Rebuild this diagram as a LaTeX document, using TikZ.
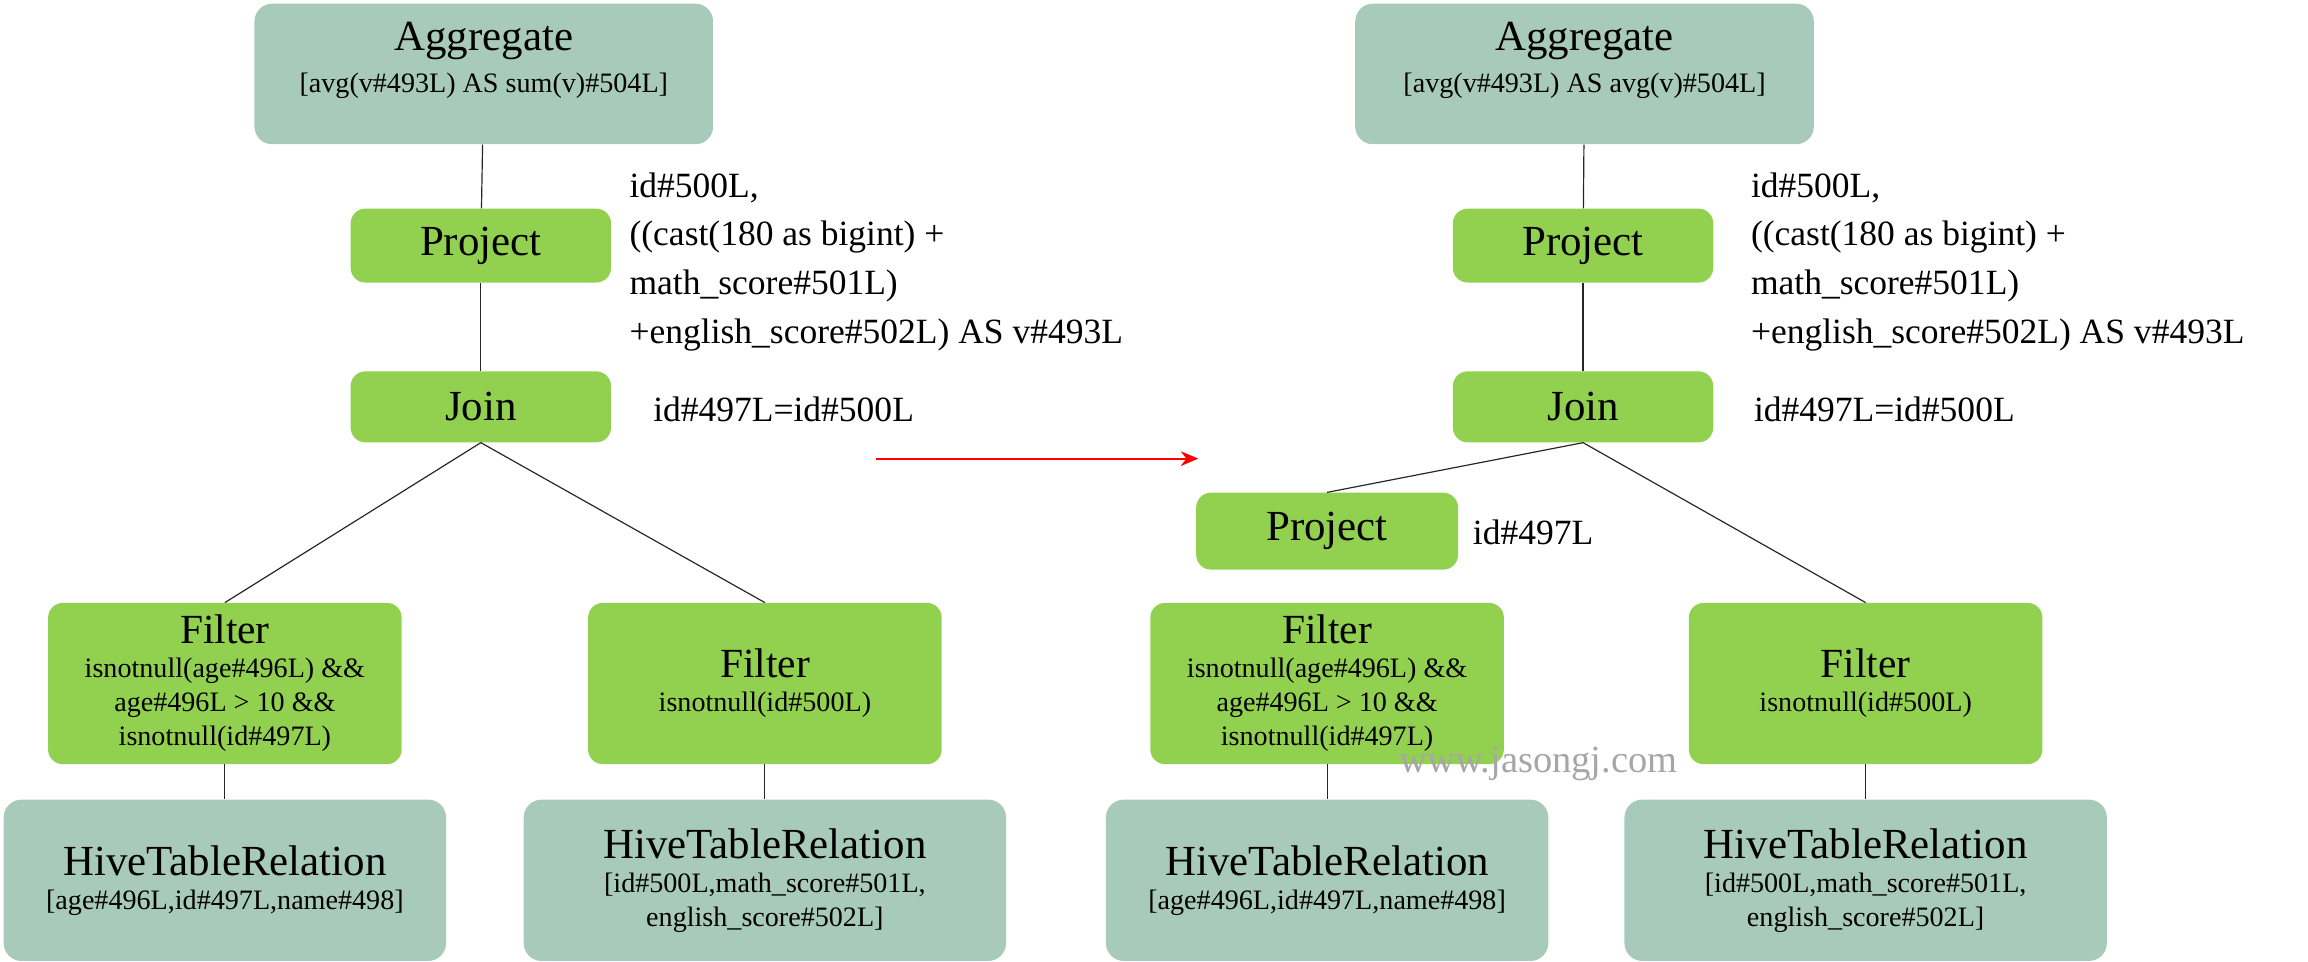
\documentclass[tikz,border=0pt]{standalone}
\usepackage{fontspec}
\setmainfont{Liberation Serif}
\usetikzlibrary{arrows.meta, positioning}

\definecolor{relgray}{HTML}{A8CABA}
\definecolor{opgreen}{HTML}{92D050}

\begin{document}
\begin{tikzpicture}[
    x=1pt, y=-1pt,
    rel/.style={rectangle, rounded corners=12pt, fill=relgray, align=center, inner sep=2pt},
    op/.style={rectangle, rounded corners=10pt, fill=opgreen, align=center, inner sep=2pt},
    big/.style={font=\fontsize{29}{32}\selectfont},
    sub/.style={font=\fontsize{19}{23}\selectfont},
    note/.style={font=\fontsize{24}{33}\selectfont, align=left, anchor=west},
    link/.style={thick, black!85},
    arrow/.style={-{Stealth[length=12pt, width=10pt]}, red, very thick}
]
\useasboundingbox (0,0) rectangle (1560,650);

% Left tree
\node[rel, minimum width=310, minimum height=95] (aggL) at (327,50) {};
\node[big] at (327,28) {Aggregate};
\node[sub] at (327,58) {[avg(v\#493L) AS sum(v)\#504L]};
\node[op, big, minimum width=176, minimum height=50] (projL) at (325,166) {Project};
\node[op, big, minimum width=176, minimum height=48] (joinL) at (325,275) {Join};
\node[op, sub, minimum width=239, minimum height=109] (filLa) at (152,462)
  {{\fontsize{28}{30}\selectfont Filter}\\isnotnull(age\#496L) \&\&\\age\#496L > 10 \&\&\\isnotnull(id\#497L)};
\node[op, sub, minimum width=239, minimum height=109] (filLb) at (517,462)
  {{\fontsize{28}{36}\selectfont Filter}\\isnotnull(id\#500L)};
\node[rel, sub, minimum width=299, minimum height=109] (hivLa) at (152,595)
  {{\fontsize{29}{36}\selectfont HiveTableRelation}\\{[age\#496L,id\#497L,name\#498]}};
\node[rel, sub, minimum width=326, minimum height=109] (hivLb) at (517,595)
  {{\fontsize{29}{32}\selectfont HiveTableRelation}\\{[id\#500L,math\_score\#501L,}\\english\_score\#502L]};
\node[note] (projLtxt) at (422,177) {id\#500L,\\((cast(180 as bigint) +\\math\_score\#501L)\\+english\_score\#502L) AS v\#493L};
\node[note] (joinLtxt) at (438,277) {id\#497L=id\#500L};

\draw[link] (aggL) -- (projL);
\draw[link] (projL) -- (joinL);
\draw[link] (joinL.south) -- (filLa.north);
\draw[link] (joinL.south) -- (filLb.north);
\draw[link] (filLa) -- (hivLa);
\draw[link] (filLb) -- (hivLb);

% Arrow between plans
\coordinate (arrS) at (592,310);
\coordinate (arrE) at (810,310);
\draw[arrow] (arrS) -- (arrE);

% Right tree
\node[rel, minimum width=310, minimum height=95] (aggR) at (1071,50) {};
\node[big] at (1071,28) {Aggregate};
\node[sub] at (1071,58) {[avg(v\#493L) AS avg(v)\#504L]};
\node[op, big, minimum width=176, minimum height=50] (projR) at (1070,166) {Project};
\node[op, big, minimum width=176, minimum height=48] (joinR) at (1070,275) {Join};
\node[op, big, minimum width=177, minimum height=52] (projR2) at (897,359) {Project};
\node[op, sub, minimum width=239, minimum height=109] (filRa) at (897,462)
  {{\fontsize{28}{30}\selectfont Filter}\\isnotnull(age\#496L) \&\&\\age\#496L > 10 \&\&\\isnotnull(id\#497L)};
\node[op, sub, minimum width=239, minimum height=109] (filRb) at (1261,462)
  {{\fontsize{28}{36}\selectfont Filter}\\isnotnull(id\#500L)};
\node[rel, sub, minimum width=299, minimum height=109] (hivRa) at (897,595)
  {{\fontsize{29}{36}\selectfont HiveTableRelation}\\{[age\#496L,id\#497L,name\#498]}};
\node[rel, sub, minimum width=326, minimum height=109] (hivRb) at (1261,595)
  {{\fontsize{29}{32}\selectfont HiveTableRelation}\\{[id\#500L,math\_score\#501L,}\\english\_score\#502L]};
\node[note] (projRtxt) at (1180,177) {id\#500L,\\((cast(180 as bigint) +\\math\_score\#501L)\\+english\_score\#502L) AS v\#493L};
\node[note] (joinRtxt) at (1182,277) {id\#497L=id\#500L};
\node[note] (projR2txt) at (992,360) {id\#497L};

\draw[link] (aggR) -- (projR);
\draw[link] (projR) -- (joinR);
\draw[link] (joinR.south) -- (projR2.north);
\draw[link] (joinR.south) -- (filRb.north);
\draw[link] (filRa) -- (hivRa);
\draw[link] (filRb) -- (hivRb);

% Watermark
\node[font=\fontsize{26}{28}\selectfont, text=black!35] (mark) at (1040,516) {www.jasongj.com};
\end{tikzpicture}
\end{document}
